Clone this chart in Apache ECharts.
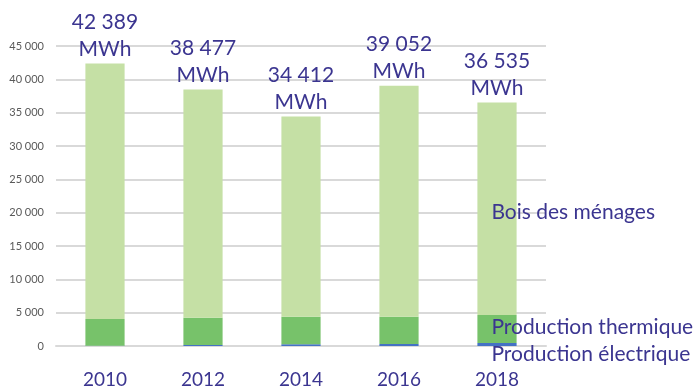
<!DOCTYPE html>
<html>
<head>
<meta charset="utf-8">
<script src="https://cdn.jsdelivr.net/npm/echarts@6/dist/echarts.min.js"></script>
<style>
html,body{margin:0;padding:0;background:#fff;}
#chart{width:694px;height:392px;}
</style>
</head>
<body>
<div id="chart"></div>
<script>
// Years and wood-energy consumption (MWh) by use
const years = ['2010', '2012', '2014', '2016', '2018'];
const totals = [42389, 38477, 34412, 39052, 36535];
const electrique = [50, 150, 250, 300, 450];
const thermique = [4000, 4100, 4150, 4100, 4200];
const menages = [38339, 34227, 30012, 34652, 31885];
const yTicks = [0, 5000, 10000, 15000, 20000, 25000, 30000, 35000, 40000, 45000];

const fmt = v => String(v).replace(/\B(?=(\d{3})+(?!\d))/g, ' ');
const ink = '#3b3590';
const font = 'Lato';

// Series name shown beside the last bar only
function lastLabel(name, dy) {
  return {
    show: true,
    position: [14, '50%'],
    offset: [0, dy],
    align: 'left',
    verticalAlign: 'middle',
    color: ink,
    fontFamily: font,
    fontSize: 21,
    formatter: p => p.dataIndex === years.length - 1 ? name : ''
  };
}

const chart = echarts.init(document.getElementById('chart'), null, {renderer: 'canvas'});
chart.setOption({
  animation: false,
  grid: {left: 56, right: 148, top: 46, bottom: 46, containLabel: false},
  xAxis: {
    type: 'category',
    data: years,
    axisLine: {show: true, lineStyle: {color: '#d9d9d9', width: 2}},
    axisTick: {show: false},
    axisLabel: {color: ink, fontFamily: font, fontSize: 19, margin: 24}
  },
  yAxis: {
    type: 'value',
    min: 0,
    max: 45000,
    interval: 5000,
    axisLine: {show: false},
    axisTick: {show: false},
    splitLine: {lineStyle: {color: '#d9d9d9', width: 2}},
    axisLabel: {color: '#595959', fontFamily: font, fontSize: 11, margin: 12,
      formatter: v => yTicks.includes(v) ? fmt(v) : ''}
  },
  series: [
    {
      name: 'Production électrique', type: 'bar', stack: 'bois', barWidth: '40%',
      data: electrique, itemStyle: {color: '#4472c4'},
      label: lastLabel('Production électrique', 10)
    },
    {
      name: 'Production thermique', type: 'bar', stack: 'bois',
      data: thermique, itemStyle: {color: '#77c26a'},
      label: lastLabel('Production thermique', -2)
    },
    {
      name: 'Bois des ménages', type: 'bar', stack: 'bois',
      data: menages, itemStyle: {color: '#c5e0a5'},
      label: lastLabel('Bois des ménages', 4)
    },
    {
      // transparent carrier for the total labels above each stack
      name: 'Total', type: 'bar', stack: 'bois',
      data: totals.map(() => 0), itemStyle: {color: 'transparent'},
      label: {
        show: true, position: 'top', distance: 1,
        color: ink, fontFamily: font, fontSize: 21, lineHeight: 27,
        formatter: p => fmt(totals[p.dataIndex]) + '\nMWh'
      }
    }
  ]
});
</script>
</body>
</html>
